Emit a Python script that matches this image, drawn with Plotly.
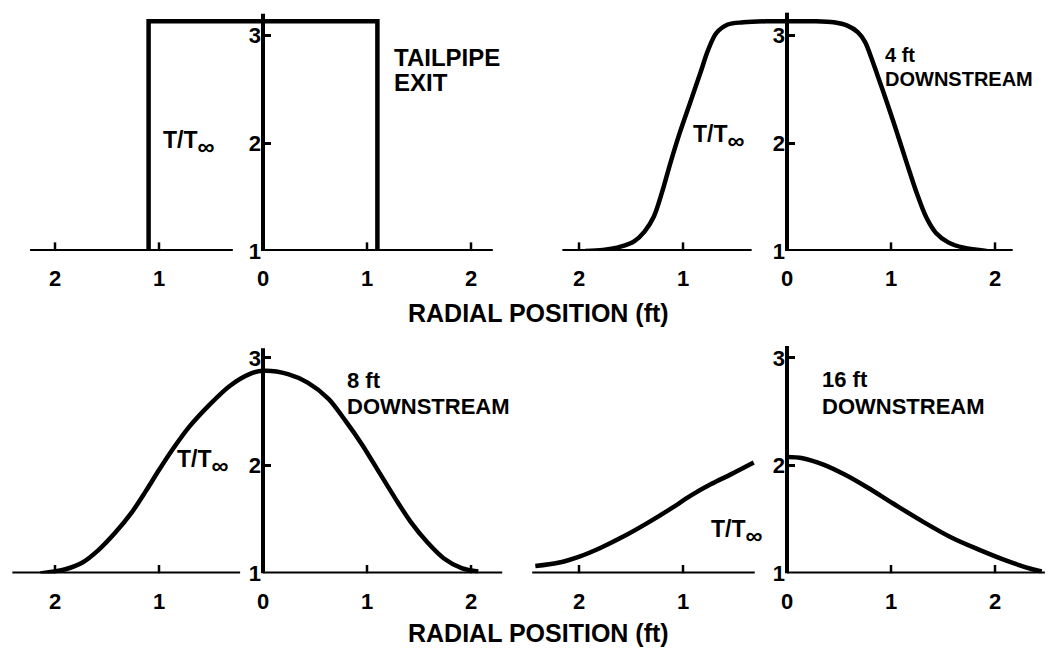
import plotly.graph_objects as go

# ---------------- data ----------------
exit_r = [-1.10, -1.10, 1.10, 1.10]
exit_T = [1.00, 3.13, 3.13, 1.00]

ft4_r = [-1.94, -1.77, -1.60, -1.47, -1.37, -1.28, -1.20, -1.12, -1.03, -0.93, -0.83, -0.76,
         -0.68, -0.57, -0.42, -0.20, 0.00, 0.25, 0.45, 0.58, 0.68, 0.75, 0.80, 0.87, 0.96,
         1.06, 1.15, 1.25, 1.34, 1.43, 1.55, 1.70, 1.92]
ft4_T = [1.00, 1.01, 1.04, 1.09, 1.18, 1.32, 1.55, 1.82, 2.10, 2.38, 2.66, 2.86,
         3.02, 3.10, 3.12, 3.13, 3.13, 3.13, 3.12, 3.09, 3.03, 2.94, 2.82, 2.63, 2.38,
         2.09, 1.82, 1.53, 1.31, 1.17, 1.08, 1.03, 1.00]

ft8_r = [-2.14, -1.90, -1.74, -1.58, -1.42, -1.26, -1.13, -1.00, -0.87, -0.71, -0.52,
         -0.32, -0.13, 0.00, 0.24, 0.43, 0.63, 0.79, 0.95, 1.11, 1.27, 1.42, 1.58,
         1.74, 1.91, 2.07]
ft8_T = [1.00, 1.04, 1.10, 1.22, 1.38, 1.57, 1.76, 1.96, 2.15, 2.36, 2.56,
         2.74, 2.85, 2.88, 2.85, 2.77, 2.62, 2.42, 2.20, 1.95, 1.70, 1.48, 1.29,
         1.14, 1.05, 1.02]

ft16_left_r = [-2.42, -2.20, -1.99, -1.79, -1.56, -1.34, -1.12, -0.93, -0.73, -0.54, -0.32]
ft16_left_T = [1.07, 1.10, 1.16, 1.24, 1.35, 1.47, 1.60, 1.72, 1.83, 1.92, 2.03]
ft16_right_r = [0.00, 0.15, 0.35, 0.55, 0.77, 1.02, 1.31, 1.59, 1.85, 2.11, 2.36, 2.45]
ft16_right_T = [2.08, 2.07, 2.01, 1.92, 1.80, 1.65, 1.48, 1.33, 1.22, 1.12, 1.04, 1.02]

x_tickvals = [-2, -1, 0, 1, 2]
x_ticktext = ["2", "1", "0", "1", "2"]
x_tickmarks = [-2, -1, 1, 2]
y_tickvals = [1, 2, 3]
y_ticktext = ["1", "2", "3"]

panel_titles = [("TAILPIPE", "EXIT"), ("4 ft", "DOWNSTREAM"),
                ("8 ft", "DOWNSTREAM"), ("16 ft", "DOWNSTREAM")]
x_title = "RADIAL POSITION (ft)"

# ---------------- layout geometry ----------------
W, H = 1051, 667
XR = [-2.5, 2.5]
YR = [1.0, 3.3]
PX_FT, PX_T = 104, 110
origins = [(263, 256), (787, 256), (263, 585), (787, 585)]
# axis-line extents (ft / T units)
axis_left = [(-2.24, -0.29), (-2.16, -0.34), (-2.41, -0.22), (-2.45, -0.31)]
axis_right = [2.21, 2.17, 2.30, 2.48]
axis_top = [3.20, 3.21, 3.09, 3.11]
TICK_LEN = 0.08
# label placements (ft, T)
ylab_pos = [(-0.98, 2.17), (-0.92, 2.22), (-0.85, 2.20), (-0.75, 1.55)]
title_pos = [(1.24, 2.89, 2.66), (0.92, 2.89, 2.67), (0.79, 2.88, 2.64), (0.32, 2.89, 2.64)]
title_size = [(24, 24), (20, 20), (22, 22), (22, 22)]

FONT = "Liberation Sans, Arial, DejaVu Sans, sans-serif"
LW = 4.5

fig = go.Figure()
layout = dict(width=W, height=H, margin=dict(l=0, r=0, t=0, b=0),
              paper_bgcolor="white", plot_bgcolor="white", showlegend=False,
              font=dict(family=FONT, color="black"))
annotations = []

curves = [
    [(exit_r, exit_T)],
    [(ft4_r, ft4_T)],
    [(ft8_r, ft8_T)],
    [(ft16_left_r, ft16_left_T), (ft16_right_r, ft16_right_T)],
]

for i in range(4):
    n = "" if i == 0 else str(i + 1)
    xa, ya = "x" + n, "y" + n
    ox, oy = origins[i]
    dx = [(ox + XR[0] * PX_FT) / W, (ox + XR[1] * PX_FT) / W]
    dy = [(H - oy) / H, (H - oy + (YR[1] - YR[0]) * PX_T) / H]
    ypos = ox / W

    layout["xaxis" + n] = dict(
        domain=dx, range=XR, anchor=ya, showgrid=False, zeroline=False, showline=False,
        tickvals=x_tickvals, ticktext=x_ticktext, ticks="", ticklabelstandoff=12,
        tickfont=dict(family=FONT, size=22, weight="bold", color="black"), fixedrange=True)
    layout["yaxis" + n] = dict(
        domain=dy, range=YR, anchor="free", position=ypos,
        showgrid=False, zeroline=False, showline=False,
        tickvals=y_tickvals, ticktext=y_ticktext, ticks="inside", ticklen=7,
        tickwidth=3, tickcolor="black", ticklabelstandoff=2,
        tickfont=dict(family=FONT, size=22, weight="bold", color="black"), fixedrange=True)

    line_style = dict(color="black", width=4)
    # axis lines
    l0, l1 = axis_left[i]
    fig.add_trace(go.Scatter(x=[l0, l1], y=[1, 1], xaxis=xa, yaxis=ya, mode="lines",
                             line=line_style, cliponaxis=False, hoverinfo="skip"))
    fig.add_trace(go.Scatter(x=[0, axis_right[i]], y=[1, 1], xaxis=xa, yaxis=ya, mode="lines",
                             line=line_style, cliponaxis=False, hoverinfo="skip"))
    fig.add_trace(go.Scatter(x=[0, 0], y=[1, axis_top[i]], xaxis=xa, yaxis=ya, mode="lines",
                             line=line_style, cliponaxis=False, hoverinfo="skip"))
    # x tick marks (upward)
    tx_, ty_ = [], []
    for v in x_tickmarks:
        tx_ += [v, v, None]
        ty_ += [1, 1 + TICK_LEN, None]
    fig.add_trace(go.Scatter(x=tx_, y=ty_, xaxis=xa, yaxis=ya, mode="lines",
                             line=dict(color="black", width=2.5), cliponaxis=False,
                             hoverinfo="skip"))

    # curves
    for (rx, ty) in curves[i]:
        shape = "linear" if i == 0 else "spline"
        fig.add_trace(go.Scatter(x=rx, y=ty, xaxis=xa, yaxis=ya, mode="lines",
                                 line=dict(color="black", width=LW, shape=shape, smoothing=0.9),
                                 cliponaxis=False))

    # T/T_inf label
    lx, ly = ylab_pos[i]
    annotations.append(dict(x=lx, y=ly, xref=xa, yref=ya, xanchor="left", yanchor="top",
                            text='T/T<span style="font-size:34px"><sub>∞</sub></span>',
                            showarrow=False,
                            font=dict(family=FONT, size=23, weight="bold", color="black")))
    # panel title lines
    tx, t1, t2 = title_pos[i]
    for txt, yy, fs in zip(panel_titles[i], (t1, t2), title_size[i]):
        annotations.append(dict(x=tx, y=yy, xref=xa, yref=ya, xanchor="left", yanchor="top",
                                yshift=5, text=txt, showarrow=False,
                                font=dict(family=FONT, size=fs, weight="bold", color="black")))

for yc in (319, 646):
    annotations.append(dict(x=538 / W, y=(H - yc) / H, xref="paper", yref="paper",
                            xanchor="center", yanchor="middle", text=x_title, showarrow=False,
                            font=dict(family=FONT, size=25, weight="bold", color="black")))

layout["annotations"] = annotations
fig.update_layout(**layout)
fig.write_html("out.html", config={"displayModeBar": False},
               post_script="document.body.style.margin='0';")
